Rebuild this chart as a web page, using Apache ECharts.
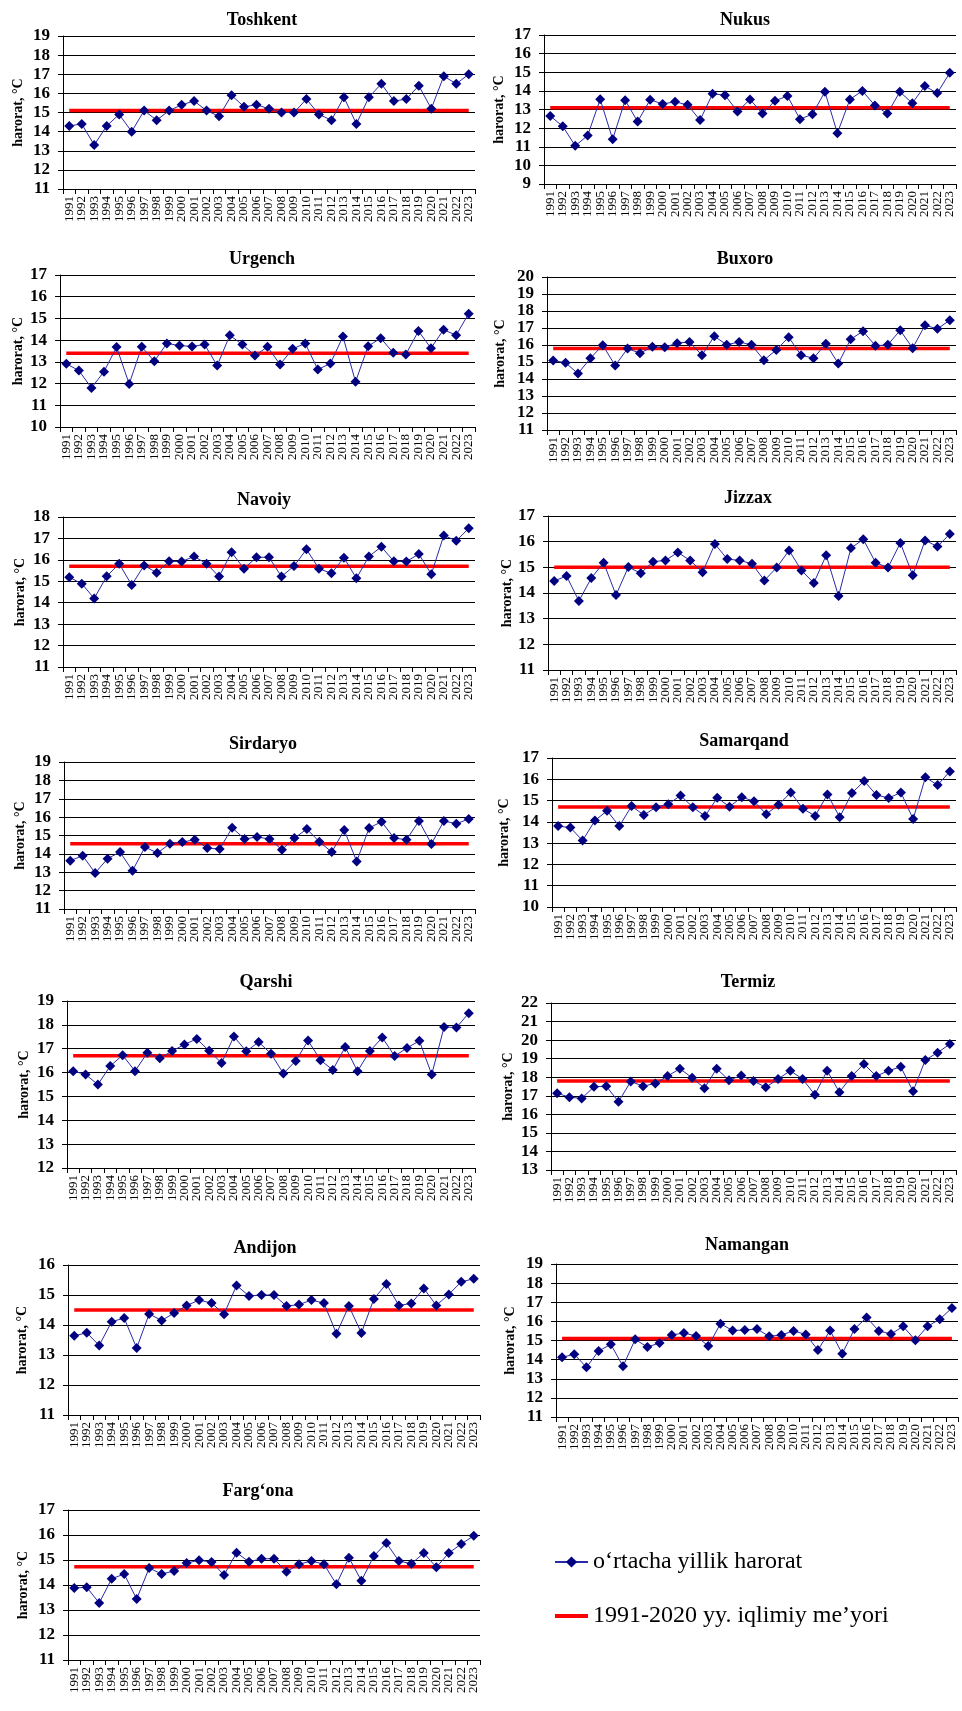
<!DOCTYPE html>
<html>
<head>
<meta charset="utf-8">
<title>O'rtacha yillik harorat</title>
<script src="https://cdn.jsdelivr.net/npm/echarts@6/dist/echarts.min.js"></script>
<style>
  html, body { margin: 0; padding: 0; background: #fff; }
  #chart { width: 962px; height: 1711px; }
</style>
</head>
<body>
<div id="chart"></div>
<script>
const years = ['1991', '1992', '1993', '1994', '1995', '1996', '1997', '1998', '1999', '2000',
  '2001', '2002', '2003', '2004', '2005', '2006', '2007', '2008', '2009', '2010',
  '2011', '2012', '2013', '2014', '2015', '2016', '2017', '2018', '2019', '2020',
  '2021', '2022', '2023']

const stations = ['Toshkent', 'Nukus', 'Urgench', 'Buxoro', 'Navoiy', 'Jizzax', 'Sirdaryo',
  'Samarqand', 'Qarshi', 'Termiz', 'Andijon', 'Namangan', 'Farg‘ona']

const toshkent = [14.3, 14.4, 13.3, 14.3, 14.9, 14.0, 15.1, 14.6, 15.1, 15.4, 15.6, 15.1, 14.8, 15.9, 15.3, 15.4, 15.2,
  15.0, 15.0, 15.7, 14.9, 14.6, 15.8, 14.4, 15.8, 16.5, 15.6, 15.7, 16.4, 15.2, 16.9, 16.5, 17.0]
const nukus = [12.65, 12.1, 11.05, 11.6, 13.55, 11.4, 13.5, 12.35, 13.52, 13.3, 13.41, 13.25, 12.43, 13.84, 13.77, 12.89, 13.54,
  12.78, 13.47, 13.72, 12.48, 12.75, 13.95, 11.73, 13.54, 14.0, 13.22, 12.78, 13.95, 13.34, 14.26, 13.88, 14.97]
const urgench = [12.91, 12.6, 11.8, 12.55, 13.68, 11.98, 13.69, 13.03, 13.85, 13.75, 13.71, 13.8, 12.83, 14.22, 13.8, 13.29, 13.69,
  12.88, 13.6, 13.85, 12.65, 12.92, 14.17, 12.08, 13.72, 14.09, 13.42, 13.34, 14.42, 13.63, 14.48, 14.23, 15.22]
const buxoro = [15.09, 14.95, 14.32, 15.22, 15.99, 14.79, 15.79, 15.52, 15.89, 15.87, 16.11, 16.18, 15.4, 16.52, 16.01, 16.18, 16.01,
  15.11, 15.71, 16.46, 15.4, 15.22, 16.07, 14.91, 16.34, 16.81, 15.95, 16.01, 16.87, 15.81, 17.16, 16.95, 17.46]
const navoiy = [15.19, 14.89, 14.2, 15.23, 15.82, 14.83, 15.74, 15.4, 15.93, 15.92, 16.16, 15.82, 15.22, 16.35, 15.59, 16.12, 16.12,
  15.22, 15.71, 16.49, 15.59, 15.37, 16.1, 15.14, 16.16, 16.61, 15.93, 15.92, 16.27, 15.33, 17.14, 16.89, 17.47]
const jizzax = [14.47, 14.66, 13.69, 14.58, 15.18, 13.92, 15.01, 14.77, 15.22, 15.27, 15.58, 15.27, 14.81, 15.91, 15.32, 15.27, 15.14,
  14.49, 14.99, 15.66, 14.88, 14.39, 15.47, 13.88, 15.75, 16.09, 15.18, 14.99, 15.95, 14.69, 16.05, 15.81, 16.3]
const sirdaryo = [13.63, 13.9, 12.96, 13.74, 14.1, 13.08, 14.37, 14.05, 14.55, 14.64, 14.77, 14.32, 14.26, 15.42, 14.81, 14.92, 14.81,
  14.23, 14.86, 15.35, 14.66, 14.1, 15.3, 13.59, 15.41, 15.75, 14.86, 14.77, 15.79, 14.54, 15.79, 15.64, 15.9]
const samarqand = [13.8, 13.73, 13.12, 14.06, 14.52, 13.8, 14.74, 14.32, 14.69, 14.83, 15.24, 14.69, 14.27, 15.13, 14.71, 15.16, 14.97,
  14.36, 14.8, 15.38, 14.61, 14.28, 15.29, 14.22, 15.35, 15.92, 15.26, 15.12, 15.38, 14.13, 16.09, 15.73, 16.37]
const qarshi = [16.06, 15.92, 15.5, 16.28, 16.73, 16.06, 16.83, 16.6, 16.9, 17.18, 17.41, 16.91, 16.4, 17.51, 16.89, 17.28, 16.79,
  15.96, 16.49, 17.34, 16.52, 16.11, 17.07, 16.06, 16.9, 17.47, 16.69, 17.03, 17.33, 15.92, 17.91, 17.89, 18.49]
const termiz = [17.14, 16.92, 16.86, 17.48, 17.52, 16.68, 17.77, 17.52, 17.66, 18.06, 18.46, 17.97, 17.41, 18.46, 17.84, 18.09, 17.79,
  17.46, 17.9, 18.35, 17.9, 17.06, 18.35, 17.19, 18.06, 18.71, 18.06, 18.35, 18.56, 17.24, 18.93, 19.32, 19.79]
const andijon = [13.64, 13.74, 13.32, 14.11, 14.23, 13.23, 14.37, 14.15, 14.4, 14.65, 14.83, 14.73, 14.36, 15.32, 14.97, 15.0, 15.0,
  14.63, 14.68, 14.83, 14.73, 13.71, 14.63, 13.73, 14.87, 15.37, 14.65, 14.72, 15.22, 14.65, 15.02, 15.44, 15.54]
const namangan = [14.12, 14.28, 13.6, 14.45, 14.8, 13.65, 15.06, 14.66, 14.87, 15.29, 15.39, 15.24, 14.71, 15.88, 15.52, 15.55, 15.6,
  15.22, 15.29, 15.5, 15.32, 14.5, 15.52, 14.31, 15.6, 16.2, 15.5, 15.34, 15.74, 15.01, 15.74, 16.11, 16.7]
const fargona = [13.88, 13.91, 13.28, 14.25, 14.44, 13.44, 14.68, 14.44, 14.56, 14.88, 14.99, 14.92, 14.4, 15.29, 14.93, 15.05, 15.05,
  14.53, 14.83, 14.96, 14.83, 14.03, 15.09, 14.17, 15.16, 15.68, 14.96, 14.85, 15.28, 14.71, 15.28, 15.64, 15.97]

// 1991-2020 climate norm for each station
const norms = [15.1, 13.1, 13.4, 15.8, 15.7, 15.0, 14.55, 14.7, 16.7, 17.8, 14.5, 15.1, 14.73]

// y-axis ranges (tick labels run from min to max by 1)
const yMins = [11, 9, 10, 11, 11, 11, 11, 10, 12, 13, 11, 11, 11]
const yMaxs = [19, 17, 17, 20, 18, 17, 19, 17, 19, 22, 16, 19, 17]

const seriesValues = [toshkent, nukus, urgench, buxoro, navoiy, jizzax, sirdaryo,
  samarqand, qarshi, termiz, andijon, namangan, fargona]

const NAME_AVG = 'o‘rtacha yillik harorat'
const NAME_NORM = '1991-2020 yy. iqlimiy me’yori'
const FONT = '"Liberation Serif", "Times New Roman", serif'

// plot boxes: left, top, right, bottom, title x/y, axis-name x
const panels = [
  { l: 63, t: 36, r: 475, b: 189, tx: 262, ty: 21, nx: 18 },
  { l: 544, t: 35, r: 956, b: 184, tx: 745, ty: 21, nx: 499 },
  { l: 60, t: 275, r: 475, b: 427, tx: 262, ty: 260, nx: 18 },
  { l: 547, t: 277, r: 956, b: 430, tx: 745, ty: 260, nx: 500 },
  { l: 63, t: 517, r: 475, b: 667, tx: 264, ty: 501, nx: 20 },
  { l: 548, t: 516, r: 956, b: 670, tx: 748, ty: 499, nx: 507 },
  { l: 64, t: 762, r: 475, b: 909, tx: 263, ty: 745, nx: 20 },
  { l: 552, t: 758, r: 956, b: 907, tx: 744, ty: 742, nx: 504 },
  { l: 67, t: 1001, r: 475, b: 1168, tx: 266, ty: 983, nx: 24 },
  { l: 551, t: 1003, r: 956, b: 1170, tx: 748, ty: 983, nx: 508 },
  { l: 68, t: 1265, r: 480, b: 1415, tx: 265, ty: 1249, nx: 22 },
  { l: 556, t: 1264, r: 958, b: 1417, tx: 747, ty: 1246, nx: 510 },
  { l: 68, t: 1510, r: 480, b: 1660, tx: 258, ty: 1492, nx: 23 }
]

const chart = echarts.init(document.getElementById('chart'))

const series = []
seriesValues.forEach((vals, i) => {
  series.push({
    name: NAME_AVG,
    type: 'line',
    xAxisIndex: i,
    yAxisIndex: i,
    data: vals,
    symbol: 'diamond',
    symbolSize: 10,
    z: 3,
    itemStyle: { color: '#000080' },
    lineStyle: { color: '#2a2aa8', width: 1 }
  })
  series.push({
    name: NAME_NORM,
    type: 'line',
    xAxisIndex: i,
    yAxisIndex: i,
    data: [[years[0], norms[i]], [years[years.length - 1], norms[i]]],
    symbol: 'none',
    z: 2,
    itemStyle: { color: '#ff0000' },
    lineStyle: { color: '#ff0000', width: 3.5 }
  })
})

const option = {
  animation: false,
  backgroundColor: '#fff',
  title: panels.map((p, i) => ({
    text: stations[i],
    left: p.tx,
    top: p.ty - 10,
    textAlign: 'center',
    padding: 0,
    textStyle: { fontFamily: FONT, fontWeight: 'bold', fontSize: 18, color: '#000' }
  })),
  grid: panels.map(p => ({
    left: p.l,
    top: p.t,
    width: p.r - p.l,
    height: p.b - p.t
  })),
  xAxis: panels.map((p, i) => ({
    type: 'category',
    gridIndex: i,
    data: years,
    boundaryGap: true,
    axisLine: { lineStyle: { color: '#000', width: 1 } },
    axisTick: { show: true, interval: 0, length: 5, lineStyle: { color: '#000' } },
    axisLabel: { interval: 0, rotate: 90, margin: 7, fontFamily: FONT, fontSize: 13, color: '#000' },
    splitLine: { show: false }
  })),
  yAxis: panels.map((p, i) => ({
    type: 'value',
    gridIndex: i,
    min: yMins[i],
    max: yMaxs[i],
    interval: 1,
    name: 'harorat, °C',
    nameLocation: 'middle',
    nameGap: p.l - p.nx - 7,
    nameTextStyle: { fontFamily: FONT, fontWeight: 'bold', fontSize: 14, color: '#000' },
    axisLine: { show: true, lineStyle: { color: '#000', width: 1 } },
    axisTick: { show: true, length: 5, lineStyle: { color: '#000' } },
    axisLabel: { margin: 13, fontFamily: FONT, fontWeight: 'bold', fontSize: 17, color: '#000' },
    splitLine: { show: true, lineStyle: { color: '#000', width: 1 } }
  })),
  legend: {
    orient: 'vertical',
    left: 553,
    top: 1550,
    padding: 0,
    itemWidth: 33,
    itemHeight: 14,
    itemGap: 30,
    data: [
      { name: NAME_AVG },
      { name: NAME_NORM, itemStyle: { opacity: 0 }, lineStyle: { width: 4 } }
    ],
    textStyle: { fontFamily: FONT, fontSize: 24, color: '#000' }
  },
  series: series
}

chart.setOption(option)
</script>
</body>
</html>
